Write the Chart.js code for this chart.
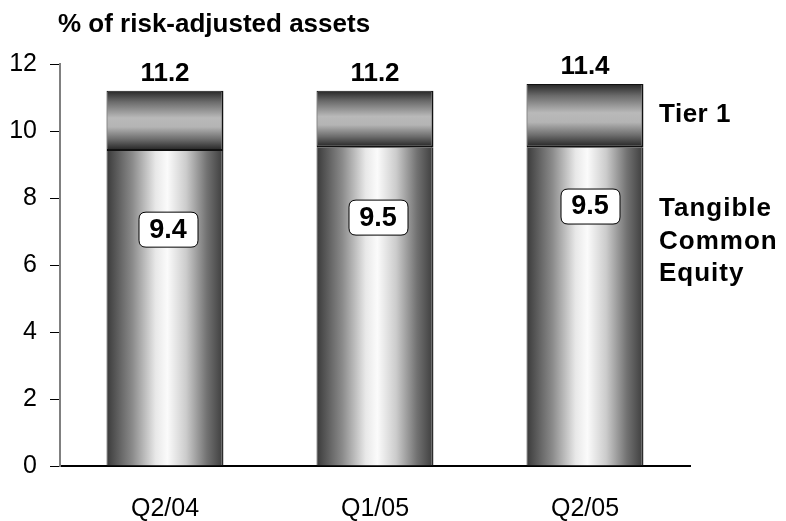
<!DOCTYPE html>
<html>
<head>
<meta charset="utf-8">
<script src="https://cdn.jsdelivr.net/npm/chart.js@4"></script>
<style>
  html, body { margin: 0; padding: 0; background: #ffffff; }
  #wrap { width: 786px; height: 521px; }
</style>
</head>
<body>
<div id="wrap"><canvas id="capital" width="786" height="521"></canvas></div>
<script>
// Capital ratios, % of risk-adjusted assets
const quarters = ['Q2/04', 'Q1/05', 'Q2/05'];
const tangibleCommonEquity = [9.4, 9.5, 9.5];
const tier1Ratio = [11.2, 11.2, 11.4];
const yTickValues = [0, 2, 4, 6, 8, 10, 12];
const seriesNames = ['Tangible Common Equity', 'Tier 1'];
const chartTitle = '% of risk-adjusted assets';
const tier1Label = ['Tier 1'];
const tceLabel = ['Tangible', 'Common', 'Equity'];

const FONT = "'Liberation Sans', Arial, Helvetica, sans-serif";
const BAR_PCT = 0.557;

function barEdges(chart, i) {
  const cx = chart.scales.x.getPixelForValue(i);
  const w = (chart.chartArea.width / quarters.length) * BAR_PCT;
  return [cx - w / 2, cx + w / 2];
}

// Cylinder shading across the bar
function columnShade(ctx) {
  const chart = ctx.chart;
  if (!chart.chartArea || ctx.dataIndex === undefined) return '#bbbbbb';
  const [l, r] = barEdges(chart, ctx.dataIndex);
  const g = chart.ctx.createLinearGradient(l, 0, r, 0);
  g.addColorStop(0.00, '#3a3a3a');
  g.addColorStop(0.07, '#545454');
  g.addColorStop(0.22, '#8a8a8a');
  g.addColorStop(0.42, '#e8e8e8');
  g.addColorStop(0.52, '#fbfbfb');
  g.addColorStop(0.68, '#cccccc');
  g.addColorStop(0.86, '#717171');
  g.addColorStop(1.00, '#3c3c3c');
  return g;
}

// Band shading from top to bottom of the Tier 1 cap
function capShade(ctx) {
  const chart = ctx.chart;
  if (!chart.chartArea || ctx.dataIndex === undefined) return '#999999';
  const y = chart.scales.y;
  const top = y.getPixelForValue(tier1Ratio[ctx.dataIndex]);
  const bot = y.getPixelForValue(tangibleCommonEquity[ctx.dataIndex]);
  const g = chart.ctx.createLinearGradient(0, top, 0, bot);
  g.addColorStop(0.00, '#262626');
  g.addColorStop(0.18, '#6a6a6a');
  g.addColorStop(0.45, '#b9b9b9');
  g.addColorStop(0.60, '#b4b4b4');
  g.addColorStop(0.80, '#6e6e6e');
  g.addColorStop(1.00, '#1e1e1e');
  return g;
}

function roundRect(c, x, y, w, h, r) {
  c.beginPath();
  c.moveTo(x + r, y);
  c.lineTo(x + w - r, y);
  c.quadraticCurveTo(x + w, y, x + w, y + r);
  c.lineTo(x + w, y + h - r);
  c.quadraticCurveTo(x + w, y + h, x + w - r, y + h);
  c.lineTo(x + r, y + h);
  c.quadraticCurveTo(x, y + h, x, y + h - r);
  c.lineTo(x, y + r);
  c.quadraticCurveTo(x, y, x + r, y);
  c.closePath();
}

const annotations = {
  id: 'annotations',
  afterDatasetsDraw(chart, args, opts) {
    const c = chart.ctx;
    const xs = chart.scales.x;
    const ys = chart.scales.y;
    const area = chart.chartArea;
    c.save();
    c.fillStyle = '#000';

    // Title
    c.font = 'bold 26px ' + FONT;
    c.textAlign = 'left';
    c.textBaseline = 'alphabetic';
    c.fillText(chartTitle, area.left - 2, 32);

    // Totals above each column
    c.font = 'bold 26px ' + FONT;
    c.textAlign = 'center';
    tier1Ratio.forEach((v, i) => {
      c.fillText(v.toFixed(1), xs.getPixelForValue(i), ys.getPixelForValue(v) - 10);
    });

    // Boxed tangible common equity values
    tangibleCommonEquity.forEach((v, i) => {
      const cx = xs.getPixelForValue(i) + opts.boxShift[i];
      const cy = ys.getPixelForValue(opts.boxLevel[i]);
      const w = 59, h = 35;
      roundRect(c, cx - w / 2 + 0.5, cy - h / 2 + 0.5, w, h, 7);
      c.fillStyle = '#ffffff';
      c.fill();
      c.lineWidth = 1;
      c.strokeStyle = '#000';
      c.stroke();
      c.fillStyle = '#000';
      c.font = 'bold 27px ' + FONT;
      c.textBaseline = 'middle';
      c.fillText(v.toFixed(1), cx, cy + 1);
    });

    // Series names to the right of the columns
    c.textAlign = 'left';
    c.textBaseline = 'alphabetic';
    c.font = 'bold 26px ' + FONT;
    const lx = area.right - 31;
    c.letterSpacing = '0.5px';
    tier1Label.forEach((t, k) => c.fillText(t, lx, 122 + k * 32));
    c.letterSpacing = '1px';
    tceLabel.forEach((t, k) => c.fillText(t, lx, 216 + k * 32.5));
    c.restore();
  }
};

new Chart(document.getElementById('capital'), {
  type: 'bar',
  data: {
    labels: quarters,
    datasets: [
      {
        label: seriesNames[0],
        data: tangibleCommonEquity,
        backgroundColor: columnShade,
        borderColor: '#2c2c2c',
        borderWidth: { left: 1, right: 2, top: 0, bottom: 0 },
        borderSkipped: false,
        barPercentage: BAR_PCT,
        categoryPercentage: 1,
        grouped: false,
        order: 2
      },
      {
        label: seriesNames[1],
        data: quarters.map((q, i) => [tangibleCommonEquity[i], tier1Ratio[i]]),
        backgroundColor: capShade,
        borderColor: '#111111',
        borderWidth: { left: 1, right: 2, top: 1, bottom: 2 },
        borderSkipped: false,
        barPercentage: BAR_PCT,
        categoryPercentage: 1,
        grouped: false,
        order: 1
      }
    ]
  },
  options: {
    responsive: false,
    devicePixelRatio: 1,
    animation: false,
    events: [],
    layout: { padding: { top: 64, right: 96, left: 0, bottom: 0 } },
    plugins: {
      legend: { display: false },
      title: { display: false },
      tooltip: { enabled: false },
      annotations: {
        boxShift: [3, 3, 5],
        boxLevel: [7.07, 7.43, 7.76]
      }
    },
    scales: {
      x: {
        grid: { display: false, drawTicks: false },
        border: { display: true, color: '#000', width: 2 },
        ticks: { color: '#000', font: { family: FONT, size: 25 }, padding: 28 },
        afterFit(s) { s.height = 55; }
      },
      y: {
        min: 0,
        max: 12,
        afterBuildTicks(s) { s.ticks = yTickValues.map(v => ({ value: v })); },
        ticks: { color: '#000', font: { family: FONT, size: 25 }, padding: 13 },
        grid: { drawOnChartArea: false, drawTicks: true, tickLength: 10, color: '#000', lineWidth: 1 },
        border: { display: true, color: '#808080', width: 2 },
        afterFit(s) { s.width = 60; }
      }
    }
  },
  plugins: [annotations]
});
</script>
</body>
</html>
